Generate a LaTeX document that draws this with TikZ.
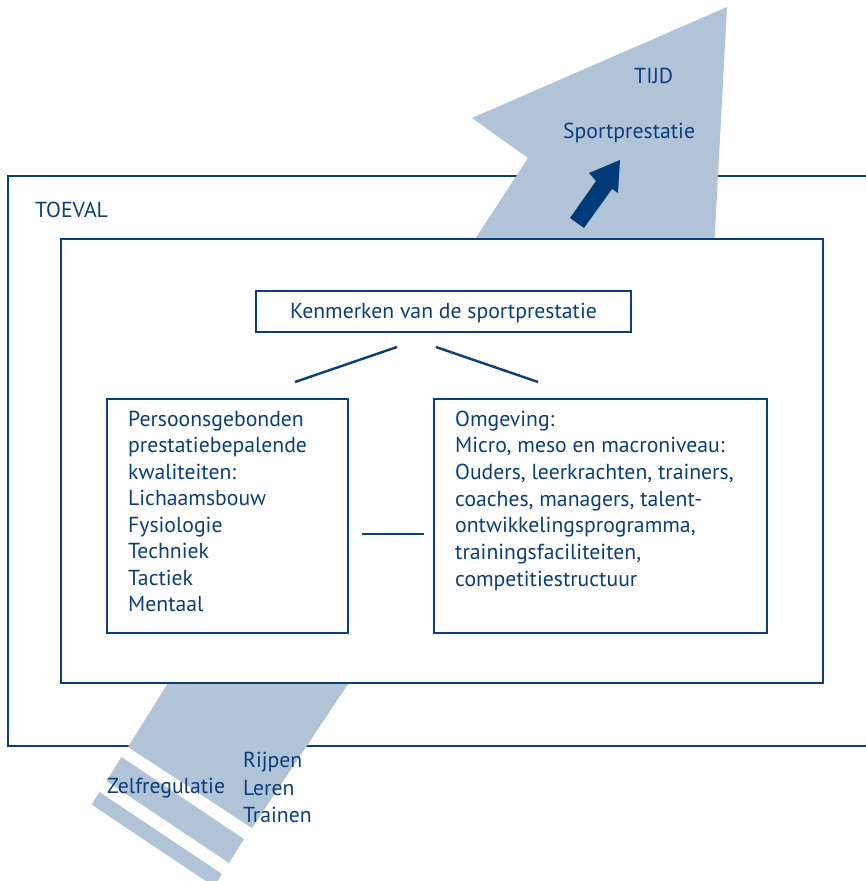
\documentclass[tikz,border=0pt]{standalone}
\usepackage{fontspec}
\setmainfont{PT Sans}
\definecolor{navy}{HTML}{0B3D7C}
\definecolor{darkarrow}{HTML}{003A78}
\definecolor{band}{HTML}{B0C3D7}
\begin{document}
\begin{tikzpicture}[x=1pt,y=-1pt,
  frame/.style={draw=navy,line width=2.4pt},
  box/.style={frame,fill=white,inner sep=0pt},
  txt/.style={text=navy,inner sep=0pt,anchor=base west,font=\fontsize{21.7}{25}\selectfont},
  link/.style={draw=navy,line width=2.4pt}]
\useasboundingbox (0,0) rectangle (866,881);
\clip (0,0) rectangle (866,881);
% outer frame (TOEVAL)
\draw[frame] (8,176) rectangle (900,746);
% light band, upper part (arrow head)
\fill[band] (468,250) -- (528,158) -- (472,118) -- (727,7) -- (714,250) -- cycle;
% light band, lower part and stripes
\fill[band] (173,675) -- (354,675) -- (252,828) -- (128,747) -- cycle;
\fill[band] (121.5,757) -- (244,839) -- (229,863) -- (106.5,781) -- cycle;
\fill[band] (99.5,792) -- (222,874) -- (214,886.5) -- (91.5,804.5) -- cycle;
% dark arrow
\fill[darkarrow] (620,160) -- (618,193) -- (612,189) -- (584,228) -- (570,218) -- (596,181) -- (589,173) -- cycle;
% inner frame
\node[box,minimum width=762pt,minimum height=444pt] (inner) at (442,461) {};
% boxes
\node[box,minimum width=375pt,minimum height=41pt] (kenm) at (443.5,311.5) {};
\node[txt,anchor=base] (kenmt) at (443.5,318) {Kenmerken van de sportprestatie};
\node[box,minimum width=241pt,minimum height=234pt] (left) at (227.5,516) {};
\node[box,minimum width=333pt,minimum height=234pt] (right) at (600.5,516) {};
% connectors
\coordinate (c1a) at (397,347); \coordinate (c1b) at (295,382);
\coordinate (c2a) at (436,347); \coordinate (c2b) at (538,382);
\coordinate (c3a) at (362,534); \coordinate (c3b) at (424,534);
\draw[link] (c1a) -- (c1b);
\draw[link] (c2a) -- (c2b);
\draw[link] (c3a) -- (c3b);
% left box text
\foreach \t [count=\i] in {Persoonsgebonden,prestatiebepalende,kwaliteiten:,Lichaamsbouw,Fysiologie,Techniek,Tactiek,Mentaal}
  \node[txt] (lt\i) at (128,{426+26.5*(\i-1)}) {\t};
% right box text
\foreach \t [count=\i] in {Omgeving:,{Micro, meso en macroniveau:},{Ouders, leerkrachten, trainers,},{coaches, managers, talent-},{ontwikkelingsprogramma,},{trainingsfaciliteiten,},competitiestructuur}
  \node[txt] (rt\i) at (455,{426+26.67*(\i-1)}) {\t};
% labels
\node[txt] (toeval) at (35,217) {TOEVAL};
\node[txt] (tijd) at (634,83) {TIJD};
\node[txt] (sport) at (563,138) {Sportprestatie};
\node[txt] (zelf) at (107,793) {Zelfregulatie};
\node[txt] (rijp) at (243,767) {Rijpen};
\node[txt] (leren) at (243,795) {Leren};
\node[txt] (train) at (243,822) {Trainen};
\end{tikzpicture}
\end{document}
